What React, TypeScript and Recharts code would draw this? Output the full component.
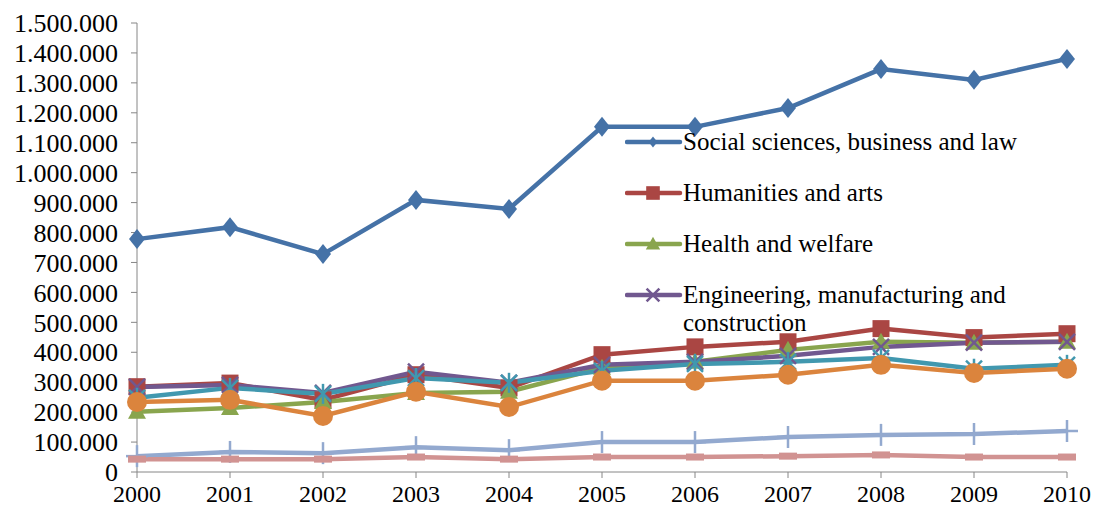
import React from 'react';
import { LineChart, Line, XAxis, YAxis, Legend } from 'recharts';

const years = ['2000', '2001', '2002', '2003', '2004', '2005', '2006', '2007', '2008', '2009', '2010'];

const social = [778000, 818000, 728000, 909000, 879000, 1153000, 1153000, 1216000, 1346000, 1310000, 1380000];
const humanities = [285000, 297000, 241000, 325000, 281000, 392000, 418000, 435000, 479000, 449000, 462000];
const health = [201000, 214000, 234000, 264000, 268000, 348000, 368000, 408000, 435000, 432000, 435000];
const engineering = [284000, 291000, 264000, 335000, 298000, 358000, 368000, 388000, 418000, 432000, 435000];
const science = [248000, 281000, 261000, 314000, 298000, 338000, 361000, 368000, 381000, 345000, 358000];
const education = [234000, 241000, 187000, 268000, 217000, 305000, 305000, 325000, 358000, 331000, 345000];
const services = [53000, 67000, 63000, 83000, 73000, 100000, 100000, 117000, 124000, 127000, 137000];
const agriculture = [43000, 43000, 43000, 50000, 43000, 50000, 50000, 53000, 57000, 50000, 50000];

const yTicks = [0, 100000, 200000, 300000, 400000, 500000, 600000, 700000, 800000, 900000, 1000000, 1100000, 1200000, 1300000, 1400000, 1500000];

const series = [
  { key: 'social', name: 'Social sciences, business and law', values: social, color: '#4572A7', shape: 'diamond' },
  { key: 'humanities', name: 'Humanities and arts', values: humanities, color: '#AA4643', shape: 'square' },
  { key: 'health', name: 'Health and welfare', values: health, color: '#89A54E', shape: 'triangle' },
  { key: 'engineering', name: 'Engineering, manufacturing and construction', values: engineering, color: '#71588F', shape: 'x' },
  { key: 'science', name: 'Science, mathematics and computing', values: science, color: '#4198AF', shape: 'star' },
  { key: 'education', name: 'Education', values: education, color: '#DB843D', shape: 'circle' },
  { key: 'services', name: 'Services', values: services, color: '#93A9CF', shape: 'plus' },
  { key: 'agriculture', name: 'Agriculture', values: agriculture, color: '#D19392', shape: 'dash' },
];

const data = years.map((year, i) => {
  const row: Record<string, string | number> = { year };
  series.forEach((s) => {
    row[s.key] = s.values[i];
  });
  return row;
});

const font = '"Liberation Serif", "DejaVu Serif", serif';

const formatNum = (v: number) => String(v).replace(/\B(?=(\d{3})+(?!\d))/g, '.');

const Marker = ({ shape, cx, cy, color, s = 1 }: { shape: string; cx: number; cy: number; color: string; s?: number }) => {
  switch (shape) {
    case 'diamond':
      return <polygon points={`${cx},${cy - 10 * s} ${cx + 8 * s},${cy} ${cx},${cy + 10 * s} ${cx - 8 * s},${cy}`} fill={color} />;
    case 'square':
      return <rect x={cx - 8.5 * s} y={cy - 8.5 * s} width={17 * s} height={17 * s} fill={color} />;
    case 'triangle':
      return <polygon points={`${cx},${cy - 9 * s} ${cx + 9 * s},${cy + 7 * s} ${cx - 9 * s},${cy + 7 * s}`} fill={color} />;
    case 'x':
      return (
        <g stroke={color} strokeWidth={2.5}>
          <line x1={cx - 8 * s} y1={cy - 8 * s} x2={cx + 8 * s} y2={cy + 8 * s} />
          <line x1={cx - 8 * s} y1={cy + 8 * s} x2={cx + 8 * s} y2={cy - 8 * s} />
        </g>
      );
    case 'star':
      return (
        <g stroke={color} strokeWidth={2.5}>
          <line x1={cx - 8 * s} y1={cy - 8 * s} x2={cx + 8 * s} y2={cy + 8 * s} />
          <line x1={cx - 8 * s} y1={cy + 8 * s} x2={cx + 8 * s} y2={cy - 8 * s} />
          <line x1={cx} y1={cy - 10 * s} x2={cx} y2={cy + 10 * s} />
        </g>
      );
    case 'circle':
      return <circle cx={cx} cy={cy} r={10 * s} fill={color} />;
    case 'plus':
      return (
        <g stroke={color} strokeWidth={2.5}>
          <line x1={cx} y1={cy - 11 * s} x2={cx} y2={cy + 11 * s} />
          <line x1={cx - 11 * s} y1={cy} x2={cx + 11 * s} y2={cy} />
        </g>
      );
    case 'dash':
      return <rect x={cx - 9 * s} y={cy - 3.5 * s} width={18 * s} height={7 * s} fill={color} />;
    default:
      return null;
  }
};

const renderLegend = () => (
  <div style={{ fontFamily: font, fontSize: 25, lineHeight: '28px', color: '#000' }}>
    {series.slice(0, 4).map((s) => (
      <div key={s.key} style={{ display: 'flex', alignItems: 'flex-start', marginBottom: 23 }}>
        <svg width={58} height={28} style={{ flex: 'none' }}>
          <line x1={2} y1={14} x2={55} y2={14} stroke={s.color} strokeWidth={4.5} strokeLinecap="round" />
          <Marker shape={s.shape} cx={28} cy={14} color={s.color} s={s.shape === 'diamond' ? 0.55 : 0.8} />
        </svg>
        <div style={{ width: 350 }}>{s.name}</div>
      </div>
    ))}
  </div>
);

export default function App() {
  return (
    <div style={{ position: 'absolute', left: 0, top: 0, width: 1098, height: 510, overflow: 'hidden', background: '#fff' }}>
      <LineChart width={1098} height={510} data={data} margin={{ top: 23, right: 31, left: 0, bottom: 8 }}>
        <XAxis
          dataKey="year"
          height={30}
          axisLine={{ stroke: '#868686' }}
          tickLine={{ stroke: '#868686' }}
          tickSize={6}
          tickMargin={7}
          interval={0}
          tick={{ fill: '#000', fontFamily: font, fontSize: 24 }}
        />
        <YAxis
          width={137}
          domain={[0, 1500000]}
          ticks={yTicks}
          interval={0}
          tickFormatter={formatNum}
          axisLine={{ stroke: '#868686' }}
          tickLine={{ stroke: '#868686' }}
          tickSize={6}
          tickMargin={13}
          tick={{ fill: '#000', fontFamily: font, fontSize: 26 }}
        />
        <Legend
          layout="vertical"
          align="center"
          verticalAlign="middle"
          content={renderLegend}
          wrapperStyle={{ left: 625, top: 128, width: 420 }}
        />
        {series.map((s) => (
          <Line
            key={s.key}
            dataKey={s.key}
            name={s.name}
            type="linear"
            stroke={s.color}
            strokeWidth={4.5}
            isAnimationActive={false}
            activeDot={false}
            dot={(p: any) => <Marker key={`${s.key}-${p.index}`} shape={s.shape} cx={p.cx} cy={p.cy} color={s.color} />}
          />
        ))}
      </LineChart>
    </div>
  );
}
